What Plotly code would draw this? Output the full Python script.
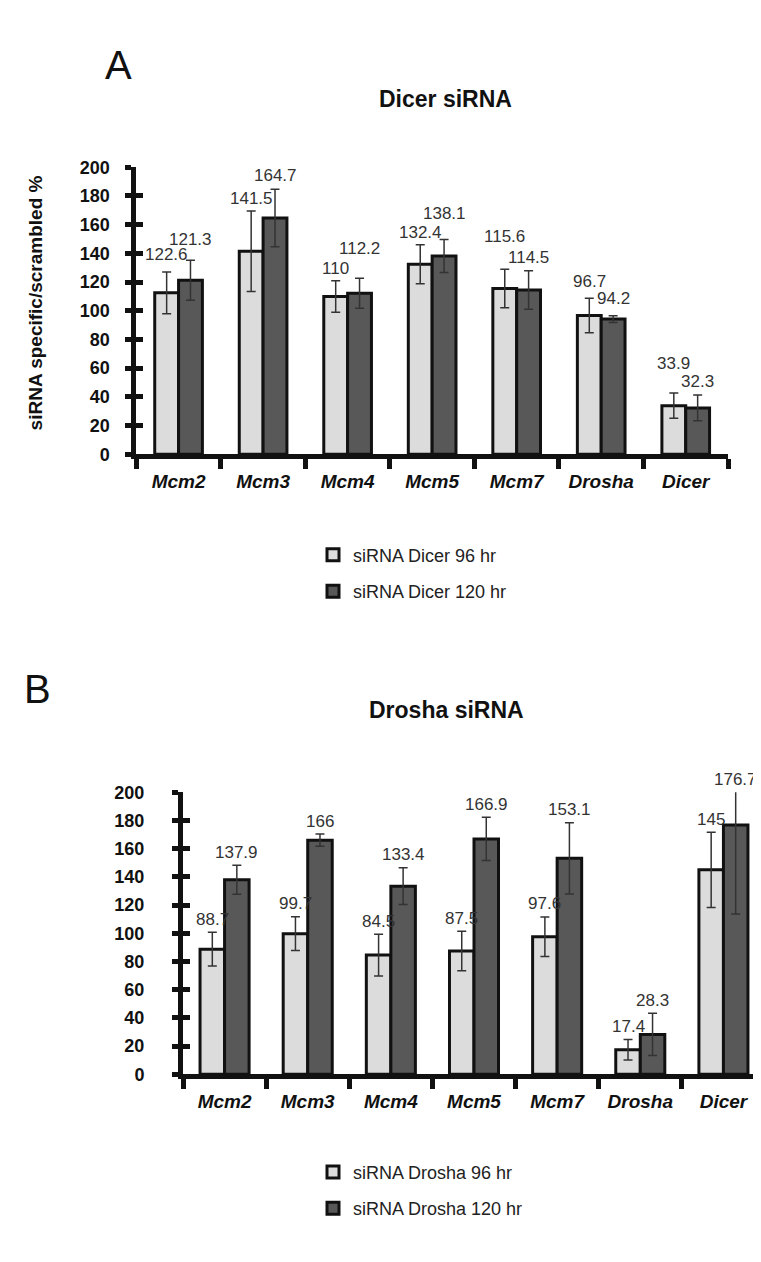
import plotly.graph_objects as go

W, H = 761, 1262

categories = ["Mcm2", "Mcm3", "Mcm4", "Mcm5", "Mcm7", "Drosha", "Dicer"]
y_ticks = [0, 20, 40, 60, 80, 100, 120, 140, 160, 180, 200]

# Panel A: Dicer siRNA
dicer_96 = [112.5, 141.5, 110.0, 132.4, 115.6, 96.7, 33.9]
dicer_96_err = [14.5, 28.0, 11.0, 13.6, 13.4, 12.0, 8.8]
dicer_96_labels = ["122.6", "141.5", "110", "132.4", "115.6", "96.7", "33.9"]
dicer_120 = [121.3, 164.7, 112.2, 138.1, 114.5, 94.2, 32.3]
dicer_120_err = [14.0, 20.0, 10.5, 11.5, 13.4, 2.3, 9.0]
dicer_120_labels = ["121.3", "164.7", "112.2", "138.1", "114.5", "94.2", "32.3"]

# Panel B: Drosha siRNA
drosha_96 = [88.7, 99.7, 84.5, 87.5, 97.6, 17.4, 145.0]
drosha_96_err = [12.0, 12.0, 14.8, 14.0, 14.0, 7.3, 26.7]
drosha_96_labels = ["88.7", "99.7", "84.5", "87.5", "97.6", "17.4", "145"]
drosha_120 = [137.9, 166.0, 133.4, 166.9, 153.1, 28.3, 176.7]
drosha_120_err = [10.3, 4.3, 13.0, 15.3, 25.3, 15.0, 63.0]
drosha_120_labels = ["137.9", "166", "133.4", "166.9", "153.1", "28.3", "176.7"]

# label lift above error bar (px) as placed in the original
lift_a_96 = [18, 13, 12.5, 12, 32.5, 17, 30]
lift_a_120 = [21, 14, 30, 26, 13.5, 17, 14]
lift_b = 13

LIGHT = "#dcdcdc"
DARK = "#585858"
FONT = "Liberation Sans"

def px(x):
    return x / W

def py(y):
    return 1 - y / H

fig = go.Figure()

def add_panel(xa, ya, v96, e96, v120, e120, name96, name120, legend, w):
    for vals, errs, color, name, off in [
        (v96, e96, LIGHT, name96, -w),
        (v120, e120, DARK, name120, 0.0),
    ]:
        fig.add_trace(go.Bar(
            x=categories, y=vals, name=name,
            xaxis=xa, yaxis=ya,
            width=w, offset=off,
            marker=dict(color=color, line=dict(color="#111111", width=3)),
            error_y=dict(type="data", array=errs, visible=True,
                         color="#333333", thickness=1.5, width=4.5),
            legend=legend, legendgroup=name,
        ))

wA, wB = 0.282, 0.295
add_panel("x", "y", dicer_96, dicer_96_err, dicer_120, dicer_120_err,
          "siRNA Dicer 96 hr", "siRNA Dicer 120 hr", "legend", wA)
add_panel("x2", "y2", drosha_96, drosha_96_err, drosha_120, drosha_120_err,
          "siRNA Drosha 96 hr", "siRNA Drosha 120 hr", "legend2", wB)

# empty traces to carry the inward half of the crossing y ticks
fig.add_trace(go.Scatter(x=[], y=[], xaxis="x", yaxis="y3", showlegend=False))
fig.add_trace(go.Scatter(x=[], y=[], xaxis="x2", yaxis="y4", showlegend=False))

annotations = []

def add_labels(xref, yref, vals, errs, labels, lifts, sign, w, ymax=200):
    for i, (v, e, t) in enumerate(zip(vals, errs, labels)):
        lift = lifts[i] if isinstance(lifts, list) else lifts
        annotations.append(dict(
            x=i + sign * w / 2, y=min(v + e, ymax), xref=xref, yref=yref,
            text=t, showarrow=False, yanchor="middle", xanchor="center",
            yshift=lift, font=dict(family=FONT, size=17, color="#333333"),
        ))

add_labels("x", "y", dicer_96, dicer_96_err, dicer_96_labels, lift_a_96, -1, wA)
add_labels("x", "y", dicer_120, dicer_120_err, dicer_120_labels, lift_a_120, 1, wA)
add_labels("x2", "y2", drosha_96, drosha_96_err, drosha_96_labels, lift_b, -1, wB)
add_labels("x2", "y2", drosha_120, drosha_120_err, drosha_120_labels, lift_b, 1, wB)

def paper_text(x, y, text, size, bold=False, angle=0):
    f = dict(family=FONT, size=size, color="#111111")
    if bold:
        f["weight"] = "bold"
    return dict(x=px(x), y=py(y), xref="paper", yref="paper", text=text,
                showarrow=False, xanchor="center", yanchor="middle",
                textangle=angle, font=f)

annotations += [
    paper_text(110, 48, "A", 40),
    paper_text(29, 682, "B", 40),
    paper_text(437, 82, "Dicer siRNA", 23, bold=True),
    paper_text(438, 703, "Drosha siRNA", 23, bold=True),
    paper_text(27.5, 289.5, "siRNA specific/scrambled %", 19, bold=True, angle=-90),
]

def xaxis(domain, anchor):
    return dict(domain=domain, anchor=anchor, type="category",
                range=[-0.5, 6.5], showgrid=False, zeroline=False,
                showline=True, linecolor="#111111", linewidth=5,
                ticks="outside", tickson="boundaries", ticklen=10, tickwidth=5,
                tickcolor="#111111", ticklabelstandoff=6,
                tickfont=dict(family=FONT, size=19, color="#111111",
                              weight="bold", style="italic"))

def yaxis(domain, anchor, standoff):
    return dict(domain=domain, anchor=anchor, range=[0, 200],
                tickvals=y_ticks, showgrid=False, zeroline=False,
                showline=True, linecolor="#111111", linewidth=5,
                ticks="outside", ticklen=6, tickwidth=5, tickcolor="#111111",
                ticklabelstandoff=standoff,
                tickfont=dict(family=FONT, size=18, color="#111111", weight="bold"))

def yaxis_inner(base, anchor):
    return dict(overlaying=base, anchor=anchor, side="left", range=[0, 200],
                tickvals=y_ticks, showgrid=False, zeroline=False, showline=False,
                ticks="inside", ticklen=7, tickwidth=5, tickcolor="#111111",
                showticklabels=False)

yA = [py(443.3), py(151.7)]
yB = [py(1073.3), py(786.7)]

fig.update_layout(
    width=W, height=H,
    margin=dict(l=0, r=0, t=0, b=0),
    paper_bgcolor="white", plot_bgcolor="rgba(0,0,0,0)",
    barmode="overlay",
    xaxis=xaxis([px(128.3), px(720)], "y"),
    yaxis=yaxis(yA, "x", 12),
    xaxis2=xaxis([px(175), px(757)], "y2"),
    yaxis2=yaxis(yB, "x2", 24),
    yaxis3=yaxis_inner("y", "x"),
    yaxis4=yaxis_inner("y2", "x2"),
    annotations=annotations,
    legend=dict(x=px(305), y=py(527), xanchor="left", yanchor="top",
                tracegroupgap=10, bgcolor="rgba(0,0,0,0)",
                font=dict(family=FONT, size=18, color="#222222")),
    legend2=dict(x=px(305), y=py(1154), xanchor="left", yanchor="top",
                 tracegroupgap=10, bgcolor="rgba(0,0,0,0)",
                 font=dict(family=FONT, size=18, color="#222222")),
    showlegend=True,
)

fig.write_html("out.html")
